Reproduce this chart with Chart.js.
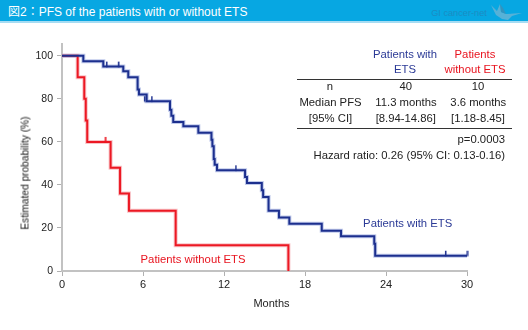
<!DOCTYPE html>
<html><head><meta charset="utf-8">
<script src="https://cdn.jsdelivr.net/npm/chart.js@4/dist/chart.umd.min.js"></script>
<style>
html,body{margin:0;padding:0;background:#fff;}
#wrap{position:relative;width:528px;height:330px;overflow:hidden;font-family:"Liberation Sans",Arial,sans-serif;background:#fff;}
#c{position:absolute;left:0;top:0;}
#hdr{position:absolute;left:0;top:0;width:528px;height:21px;background:#07a7e2;border-bottom:2px solid #a6dcf3;}
.t{position:absolute;white-space:nowrap;font-size:11.3px;line-height:13px;color:#222;transform:translate(-50%,-50%);}
.r{transform:translate(-100%,-50%);}
.blue{color:#2b3a96;}
.red{color:#e8141f;}
.hl{position:absolute;height:1px;background:#333;}
</style></head>
<body>
<div id="wrap">
<canvas id="c" width="528" height="330"></canvas>
<div id="hdr"></div>
<svg style="position:absolute;left:488px;top:2px;" width="36" height="19" viewBox="0 0 36 19">
  <polygon points="3,3 9,9 12,2 13,10 18,12 34,11 24,14 20,18 14,17 8,13" fill="#5fb3d6" opacity="0.9"/>
  <polygon points="12,2 13,10 18,12 15,6" fill="#3d8fb5" opacity="0.8"/>
</svg>
<div class="t" style="left:8px;top:12px;transform:translate(0,-50%);color:#fff;font-size:12px;font-family:'Liberation Sans','Noto Sans CJK JP',sans-serif;">図2：PFS of the patients with or without ETS</div>
<div class="t" style="left:459px;top:13px;color:#1b8cc2;font-size:9.2px;">GI cancer-net</div>

<div class="t blue" style="left:405px;top:54px;">Patients with</div>
<div class="t blue" style="left:405px;top:69px;">ETS</div>
<div class="t red" style="left:475px;top:54px;">Patients</div>
<div class="t red" style="left:475px;top:69px;">without ETS</div>
<div class="hl" style="left:297px;top:79px;width:215px;"></div>
<div class="t" style="left:330px;top:85.5px;">n</div>
<div class="t" style="left:405.7px;top:85.5px;">40</div>
<div class="t" style="left:478px;top:85.5px;">10</div>
<div class="t" style="left:330.5px;top:102px;">Median PFS</div>
<div class="t" style="left:406px;top:102px;">11.3 months</div>
<div class="t" style="left:478.3px;top:102px;">3.6 months</div>
<div class="t" style="left:330.5px;top:118px;">[95% CI]</div>
<div class="t" style="left:405.8px;top:118px;">[8.94-14.86]</div>
<div class="t" style="left:478px;top:118px;">[1.18-8.45]</div>
<div class="hl" style="left:297px;top:128px;width:215px;"></div>
<div class="t r" style="left:505px;top:138.5px;">p=0.0003</div>
<div class="t r" style="left:505px;top:155px;">Hazard ratio: 0.26 (95% CI: 0.13-0.16)</div>

<div class="t blue" style="left:407.7px;top:222.5px;">Patients with ETS</div>
<div class="t red" style="left:193px;top:259px;">Patients without ETS</div>

<div class="t" style="left:25px;top:172.5px;font-size:10.2px;color:#111;transform:translate(-50%,-50%) rotate(-90deg);">Estimated probability (%)</div>
<div class="t" style="left:271.5px;top:303px;font-size:11px;">Months</div>
</div>
<script>
// ----- data -----
const withETS_months = [0, 1.58, 3.06, 4.54, 4.91, 5.6, 5.7, 6.27, 8.0, 8.1, 8.24, 8.99, 10.1, 11.07, 11.14, 11.24, 11.31, 11.48, 13.56, 13.7, 14.8, 14.9, 15.3, 16.07, 16.84, 19.24, 20.67, 23.13, 23.2, 30];
const withETS_pct    = [100, 97.5, 95, 92.8, 90, 84.3, 82, 78.9, 75, 72.2, 69.3, 67.3, 64.2, 61, 58, 52, 49.4, 46.8, 43.7, 40.9, 37.5, 34.4, 28, 24.9, 22, 18.7, 16.1, 12.7, 7.1, 7.1];
const withETS_censor_months = [3.3, 4.17, 6.1, 6.64, 12.87, 28.4, 30];
const withETS_censor_pct    = [95, 95, 78.9, 78.9, 46.8, 7.1, 7.1];

const withoutETS_months = [0, 1.16, 1.65, 1.76, 1.87, 3.6, 4.3, 4.96, 8.42, 16.77];
const withoutETS_pct    = [100, 90, 80, 70, 60, 48, 36, 28, 12, 0];
const withoutETS_censor_months = [3.19];
const withoutETS_censor_pct    = [60];

const xTicks = [0, 6, 12, 18, 24, 30];
const yTicks = [0, 20, 40, 60, 80, 100];

const BLUE = '#1c2f8e', RED = '#ec1823';
const pts = (xs, ys) => xs.map((x, i) => ({x, y: ys[i]}));

// upward censor tick mark as point style
function tickMark(color) {
  const c = document.createElement('canvas');
  c.width = 3; c.height = 12;
  const g = c.getContext('2d');
  g.fillStyle = color;
  g.fillRect(1, 1, 1.5, 5.5);
  return c;
}

new Chart(document.getElementById('c'), {
  type: 'line',
  data: {
    datasets: [
      {data: pts(withETS_months, withETS_pct), stepped: true, borderColor: 'rgba(165,180,225,0.7)', borderWidth: 4, pointRadius: 0, order: 10},
      {data: pts(withoutETS_months, withoutETS_pct), stepped: true, borderColor: 'rgba(245,170,175,0.7)', borderWidth: 4, pointRadius: 0, order: 10},
      {data: pts(withETS_months, withETS_pct), stepped: true, borderColor: BLUE, borderWidth: 2, pointRadius: 0, order: 5},
      {data: pts(withoutETS_months, withoutETS_pct), stepped: true, borderColor: RED, borderWidth: 2, pointRadius: 0, order: 5},
      {type: 'scatter', data: pts(withETS_censor_months, withETS_censor_pct), pointStyle: tickMark(BLUE), pointRadius: 4, order: 1},
      {type: 'scatter', data: pts(withoutETS_censor_months, withoutETS_censor_pct), pointStyle: tickMark(RED), pointRadius: 4, order: 1}
    ]
  },
  options: {
    responsive: false, animation: false, devicePixelRatio: 1,
    clip: false,
    layout: {padding: {top: 44, right: 61, left: 0, bottom: 0}},
    plugins: {legend: {display: false}, tooltip: {enabled: false}},
    elements: {line: {tension: 0}},
    scales: {
      x: {
        type: 'linear', min: 0, max: 30,
        afterFit: s => { s.height = 59; },
        afterBuildTicks: s => { s.ticks = xTicks.map(v => ({value: v})); },
        border: {color: '#c2c2c2', width: 2},
        grid: {drawOnChartArea: false, drawTicks: true, tickLength: 5, color: '#b0b0b0', lineWidth: 1},
        ticks: {color: '#222', font: {family: 'Liberation Sans', size: 11}, padding: 2, maxRotation: 0}
      },
      y: {
        type: 'linear', min: 0, max: 105.5,
        afterFit: s => { s.width = 62; },
        afterBuildTicks: s => { s.ticks = yTicks.map(v => ({value: v})); },
        border: {color: '#c2c2c2', width: 2},
        grid: {drawOnChartArea: false, drawTicks: true, tickLength: 5, color: '#b0b0b0', lineWidth: 1},
        ticks: {color: '#222', font: {family: 'Liberation Sans', size: 10.5}, padding: 4}
      }
    }
  }
});
</script>
</body></html>
